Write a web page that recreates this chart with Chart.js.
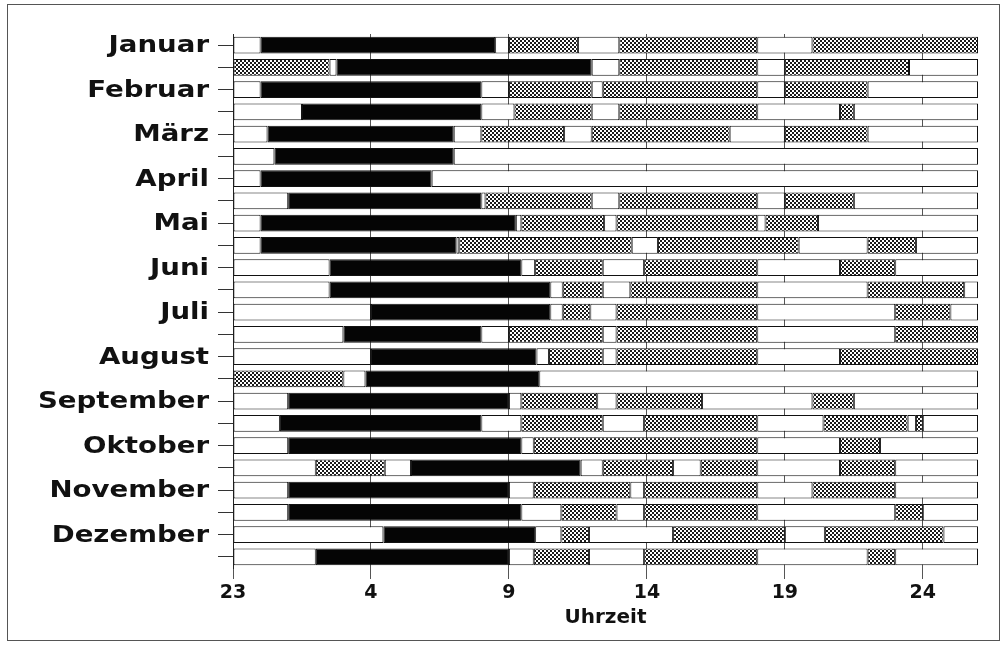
<!DOCTYPE html>
<html>
<head>
<meta charset="utf-8">
<script src="https://cdn.jsdelivr.net/npm/chart.js@4.4.1/dist/chart.umd.min.js"></script>
<style>
  body { margin: 0; background: #fff; }
  #wrap { position: relative; width: 1006px; height: 649px; }
  #frame { position: absolute; left: 7px; top: 4px; width: 993px; height: 637px; border: 1px solid #555; box-sizing: border-box; }
  canvas { position: absolute; left: 0; top: 0; }
</style>
</head>
<body>
<div id="wrap">
  <div id="frame"></div>
  <canvas id="tagesChart" width="1006" height="649"></canvas>
</div>
<script>
// zwei Zeilen je Monat, Name nur an der ersten
const rowLabels = ['Januar', '', 'Februar', '', 'März', '', 'April', '', 'Mai', '', 'Juni', '',
                   'Juli', '', 'August', '', 'September', '', 'Oktober', '', 'November', '', 'Dezember', ''];
const hourLabels = ['23', '4', '9', '14', '19', '24'];

// Wechselzeiten je Zeile, Stunden ab 23 Uhr (0 .. 27)
const edges = [
  [0, 1, 9.5, 10, 12.5, 14, 19, 21, 27],
  [0, 3.5, 3.75, 13, 14, 19, 20, 24.5, 27],
  [0, 1, 9, 10, 13, 13.4, 19, 20, 23, 27],
  [0, 2.5, 9, 10.2, 13, 14, 19, 22, 22.5, 27],
  [0, 1.25, 8, 9, 12, 13, 18, 20, 23, 27],
  [0, 1.5, 8, 27],
  [0, 1, 7.2, 27],
  [0, 2, 9, 9.15, 13, 14, 19, 20, 22.5, 27],
  [0, 1, 10.25, 10.45, 13.45, 13.9, 19, 19.3, 21.2, 27],
  [0, 1, 8.1, 8.2, 14.45, 15.4, 20.5, 23, 24.75, 27],
  [0, 3.5, 10.45, 10.95, 13.4, 14.9, 19, 22, 24, 27],
  [0, 3.5, 11.5, 11.95, 13.4, 14.4, 19, 23, 26.5, 27],
  [0, 5, 11.5, 11.95, 12.95, 13.9, 19, 24, 26, 27],
  [0, 4, 9, 10, 13.4, 13.9, 19, 24, 27],
  [0, 5, 11, 11.45, 13.4, 13.9, 19, 22, 27],
  [0, 4, 4.8, 11.1, 27],
  [0, 2, 10, 10.45, 13.2, 13.9, 17, 21, 22.5, 27],
  [0, 1.7, 9, 10.45, 13.4, 14.9, 19, 21.4, 24.45, 24.75, 25, 27],
  [0, 2, 10.45, 10.9, 19, 22, 23.45, 27],
  [0, 3, 5.5, 6.45, 12.6, 13.4, 15.95, 16.95, 19, 22, 24, 27],
  [0, 2, 10, 10.9, 14.4, 14.9, 19, 21, 24, 27],
  [0, 2, 10.45, 11.9, 13.9, 14.9, 19, 24, 25, 27],
  [0, 5.45, 10.95, 11.9, 12.9, 15.95, 20, 21.45, 25.75, 27],
  [0, 3, 10, 10.9, 12.9, 14.9, 19, 23, 24, 27]
];

// Art jedes Abschnitts: w = weiß, b = schwarz, g = gerastert
const kinds = [
  'wbwgwgwg', 'gwbwgwgw', 'wbwgwgwgw', 'wbwgwgwgw', 'wbwgwgwgw', 'wbw',
  'wbw', 'wbwgwgwgw', 'wbwgwgwgw', 'wbwgwgwgw', 'wbwgwgwgw', 'wbwgwgwgw',
  'wbwgwgwgw', 'wbwgwgwg', 'wbwgwgwg', 'gwbw', 'wbwgwgwgw', 'wbwgwgwgwgw',
  'wbwgwgw', 'wgwbwgwgwgw', 'wbwgwgwgw', 'wbwgwgwgw', 'wbwgwgwgw', 'wbwgwgwgw'
];

// Schachbrett-Raster für die grauen Abschnitte
function checker() {
  const c = document.createElement('canvas');
  c.width = 4; c.height = 4;
  const g = c.getContext('2d');
  g.fillStyle = '#fff';
  g.fillRect(0, 0, 4, 4);
  g.fillStyle = '#1a1a1a';
  g.fillRect(0, 0, 2, 2);
  g.fillRect(2, 2, 2, 2);
  return g.createPattern(c, 'repeat');
}

const ctx = document.getElementById('tagesChart').getContext('2d');
const fills = { w: '#ffffff', b: '#050505', g: checker() };

const maxSeg = Math.max(...edges.map(e => e.length - 1));
const datasets = [];
for (let k = 0; k < maxSeg; k++) {
  datasets.push({
    data: edges.map(e => (k + 1 < e.length ? [e[k], e[k + 1]] : null)),
    backgroundColor: kinds.map(s => fills[s[k]] || '#ffffff')
  });
}

// Monatsnamen links neben der Achse, breit gezogen
const monthNames = {
  id: 'monthNames',
  afterDraw(chart) {
    const { ctx, scales: { y } } = chart;
    ctx.save();
    ctx.fillStyle = '#111';
    ctx.font = 'bold 23px "DejaVu Sans"';
    ctx.textAlign = 'right';
    ctx.textBaseline = 'middle';
    rowLabels.forEach((name, i) => {
      if (!name) return;
      ctx.save();
      ctx.translate(209, y.getPixelForValue(i) + 1);
      ctx.scale(1.2, 1);
      ctx.fillText(name, 0, 0);
      ctx.restore();
    });
    ctx.restore();
  }
};

new Chart(ctx, {
  type: 'bar',
  data: { labels: rowLabels, datasets: datasets },
  options: {
    indexAxis: 'y',
    responsive: false,
    animation: false,
    layout: { padding: { top: 34, right: 28, bottom: 19, left: 0 } },
    plugins: { legend: { display: false }, tooltip: { enabled: false } },
    datasets: {
      bar: {
        grouped: false,
        categoryPercentage: 1,
        barPercentage: 0.75,
        borderColor: '#111',
        borderWidth: 1,
        borderSkipped: false
      }
    },
    scales: {
      x: {
        type: 'linear',
        min: 0,
        max: 27,
        afterBuildTicks: axis => { axis.ticks = axis.ticks.filter(t => t.value % 5 === 0); },
        afterFit: axis => { axis.height = 62; },
        ticks: {
          stepSize: 5,
          padding: 3,
          color: '#111',
          font: { family: 'DejaVu Sans', weight: 'bold', size: 19 },
          callback: v => hourLabels[v / 5]
        },
        grid: { color: '#555', lineWidth: 1, tickLength: 11 },
        border: { display: false },
        title: {
          display: true,
          text: 'Uhrzeit',
          color: '#111',
          font: { family: 'DejaVu Sans', weight: 'bold', size: 20 },
          padding: { top: 0, bottom: 0 }
        }
      },
      y: {
        afterFit: axis => { axis.width = 233; },
        ticks: { display: false },
        grid: { offset: false, drawOnChartArea: false, tickLength: 15, color: '#333' },
        border: { display: true, color: '#222', width: 1 }
      }
    }
  },
  plugins: [monthNames]
});
</script>
</body>
</html>
